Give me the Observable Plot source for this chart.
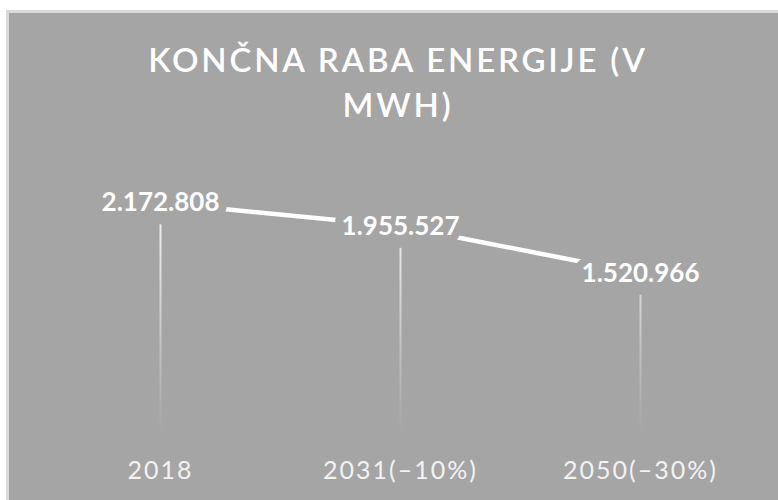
<!DOCTYPE html>
<html lang="sl">
<head>
<meta charset="utf-8">
<script src="https://cdn.jsdelivr.net/npm/d3@7"></script>
<script src="https://cdn.jsdelivr.net/npm/@observablehq/plot@0.6"></script>
<style>
  html, body { margin: 0; padding: 0; background: #ffffff; overflow: hidden; }
  body { width: 778px; height: 500px; position: relative; font-family: Lato, "Open Sans", sans-serif; }
  #panel {
    position: absolute; left: 6px; top: 10px; width: 800px; height: 520px;
    border: 3px solid #d9d9d9; background: #a5a5a5; box-sizing: border-box;
  }
  #title {
    position: absolute; left: 128px; top: 37px; width: 540px;
    text-align: center; color: #ffffff; font-size: 33px; line-height: 45px;
    letter-spacing: 2.8px; font-weight: 600; margin: 0;
  }
  #chart { position: absolute; left: 0; top: 140px; }
</style>
</head>
<body>
<div id="panel"></div>
<h2 id="title">KONČNA RABA ENERGIJE (V MWH)</h2>
<div id="chart"></div>
<script>
// Final energy consumption, MWh, with the targeted reductions
const categories = ["2018", "2031(–10%)", "2050(–30%)"];
const values = [2172808, 1955527, 1520966];

// Slovenian number format: 2.172.808
const fmt = d3.formatLocale({decimal: ",", thousands: ".", grouping: [3], currency: ["", " €"]}).format(",d");

const data = categories.map((c, i) => ({year: c, value: values[i]}));
const bg = "#a5a5a5";

const chart = Plot.plot({
  width: 778,
  height: 360,
  marginLeft: 40,
  marginRight: 18,
  marginTop: 27,
  marginBottom: 63,
  style: {background: "transparent", color: "#f2f2f2", fontFamily: "Lato, 'Open Sans', sans-serif", overflow: "visible"},
  x: {type: "point", domain: categories, padding: 0.5, label: null},
  y: {domain: [0, 2500000], axis: null},
  marks: [
    // drop lines fading toward the baseline
    Plot.ruleX(data, {x: "year", y1: "value", y2: 0, stroke: "url(#fade)", strokeWidth: 2, insetTop: 22, insetBottom: 5}),
    Plot.line(data, {x: "year", y: "value", stroke: "#ffffff", strokeWidth: 4.5}),
    Plot.text(data, {
      x: "year", y: "value", text: d => fmt(d.value),
      fill: "#ffffff", stroke: bg, strokeWidth: 16, strokeLinejoin: "round", paintOrder: "stroke",
      fontSize: 26, fontWeight: "bold", style: "letter-spacing:0.6px"
    }),
    Plot.axisX({tickSize: 0, tickPadding: 24, fontSize: 25, fill: "#f2f2f2", label: null})
  ]
});

// vertical gradient for the drop lines
const defs = d3.select(chart).insert("defs", ":first-child");
const grad = defs.append("linearGradient")
  .attr("id", "fade").attr("gradientUnits", "userSpaceOnUse")
  .attr("x1", 0).attr("x2", 0).attr("y1", 80).attr("y2", 292);
grad.append("stop").attr("offset", 0).attr("stop-color", "#f4f4f4").attr("stop-opacity", 0.95);
grad.append("stop").attr("offset", 1).attr("stop-color", "#f4f4f4").attr("stop-opacity", 0);

d3.select(chart).selectAll("g[aria-label='x-axis tick label'] text").style("letter-spacing", "2px");

document.getElementById("chart").appendChild(chart);
</script>
</body>
</html>
